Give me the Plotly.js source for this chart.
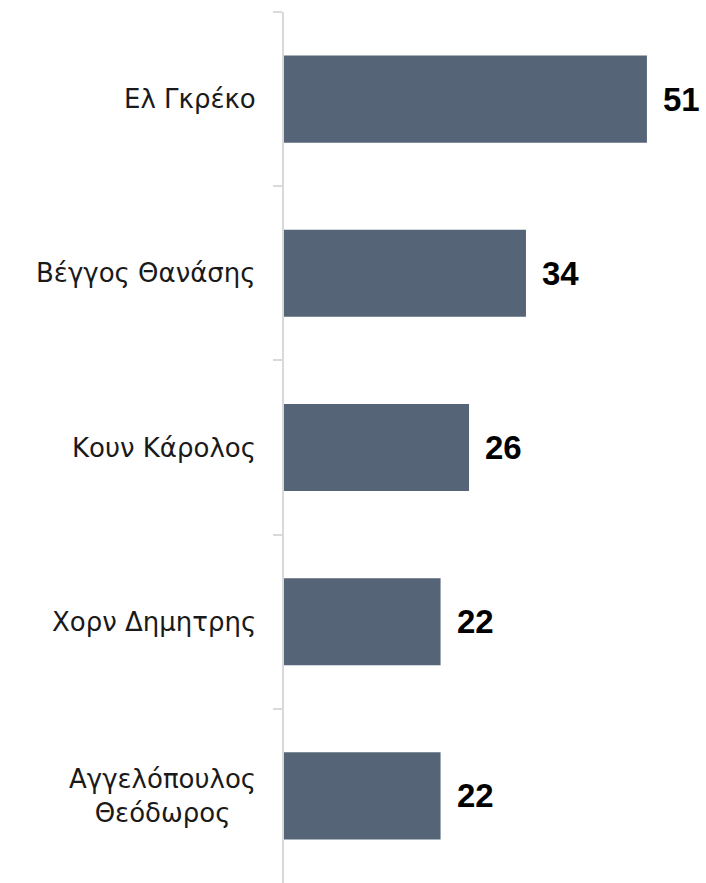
<!DOCTYPE html>
<html>
<head>
<meta charset="utf-8">
<script src="https://cdn.plot.ly/plotly-3.0.1.min.js"></script>
<style>html,body{margin:0;padding:0;background:#fff;}#chart{width:706px;height:883px;}</style>
</head>
<body>
<div id="chart"></div>
<script>
var categories = ["Ελ Γκρέκο", "Βέγγος Θανάσης", "Κουν Κάρολος", "Χορν Δημητρης", "Αγγελόπουλος<br>Θεόδωρος"];
var values = [51, 34, 26, 22, 22];
var valueLabels = ["51", "34", "26", "22", "22"];

var trace = {
  type: "bar",
  orientation: "h",
  x: values,
  y: categories,
  width: 0.5,
  marker: {color: "#556577"},
  hoverinfo: "none"
};

var annotations = [];
for (var i = 0; i < categories.length; i++) {
  annotations.push({
    x: values[i], y: categories[i], xref: "x", yref: "y",
    text: "<b>" + valueLabels[i] + "</b>", showarrow: false,
    xanchor: "left", yanchor: "middle", xshift: 14,
    font: {family: "Liberation Sans, Arial, sans-serif", size: 33, color: "#000"}
  });
  annotations.push({
    x: 0, y: categories[i], xref: "paper", yref: "y",
    text: categories[i], showarrow: false, align: "center",
    xanchor: "right", yanchor: "middle", xshift: -26,
    font: {family: "DejaVu Sans, sans-serif", size: 26, color: "#1a1a1a"}
  });
}

var layout = {
  width: 706, height: 883,
  margin: {l: 284, r: 0, t: 12, b: 0},
  paper_bgcolor: "#fff", plot_bgcolor: "#fff",
  showlegend: false,
  xaxis: {range: [0, 59.3], visible: false, fixedrange: true},
  yaxis: {
    autorange: "reversed", type: "category",
    showticklabels: false, showgrid: false, zeroline: false,
    showline: true, linecolor: "#d9d9d9", linewidth: 2,
    ticks: "outside", tickson: "boundaries", ticklen: 9, tickcolor: "#d9d9d9", tickwidth: 2
  },
  annotations: annotations
};

Plotly.newPlot("chart", [trace], layout, {staticPlot: true});
</script>
</body>
</html>
